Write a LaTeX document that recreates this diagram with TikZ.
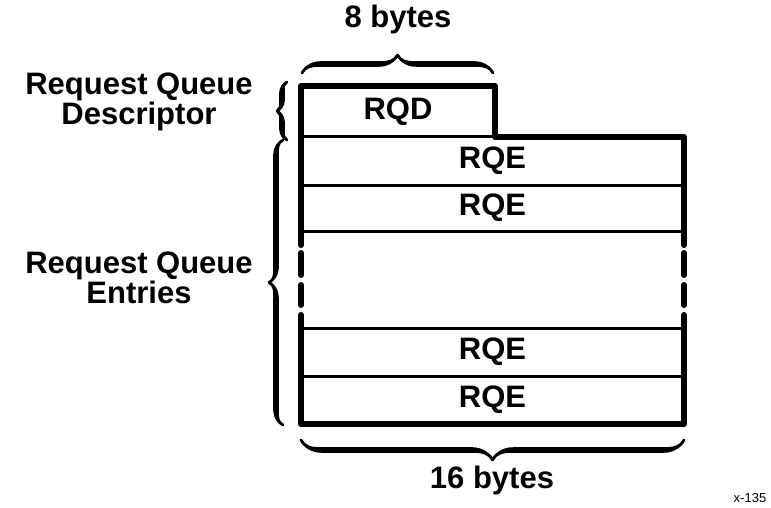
\documentclass[tikz,border=0pt]{standalone}
\usepackage{fontspec}
\setmainfont{Liberation Sans}
\usetikzlibrary{decorations.pathreplacing,calligraphy}
\begin{document}
\begin{tikzpicture}[x=1pt,y=-1pt,
    lbl/.style={font=\fontsize{31}{28}\selectfont\bfseries, inner sep=0pt},
    cell/.style={draw, line width=3pt, outer sep=0pt, minimum width=383pt, lbl},
    edge/.style={line width=6pt, line cap=round, line join=round},
    curly/.style={decorate, decoration={calligraphic brace, amplitude=#1},
        line width=5.5pt, pen colour={black}}]
    \useasboundingbox (0,0) rectangle (771,508);
    \node[cell, minimum width=194pt, minimum height=51pt] (rqd) at (398,111.5) {RQD};
    \node[cell, minimum height=48pt] (rqeA) at (492.5,161) {RQE};
    \node[cell, minimum height=46pt] (rqeB) at (492.5,208) {RQE};
    \node[cell, minimum height=48pt] (rqeC) at (492.5,352) {RQE};
    \node[cell, minimum height=48pt] (rqeD) at (492.5,400) {RQE};
    \draw[edge] (rqeB.south west) ++(0,14) -- (rqd.north west) -- (rqd.north east)
        -- (rqd.south east) -- (rqeA.north east) -- ++(0,108);
    \draw[edge] (rqeC.north west) ++(0,-13) -- (rqeD.south west) -- (rqeD.south east)
        -- ++(0,-109);
    \foreach \x in {301,684}
        \foreach \a/\b in {253/275,285/305}
            \draw[edge] (\x,\a) -- (\x,\b);
    \coordinate (topL) at (302,73);
    \coordinate (topR) at (493,73);
    \coordinate (botL) at (301,440);
    \coordinate (botR) at (684,440);
    \coordinate (rqdB) at (287,140);
    \coordinate (rqdT) at (287,82);
    \coordinate (rqeBot) at (283,425);
    \coordinate (rqeTop) at (283,140);
    \draw[curly=18pt] (topL) -- (topR);
    \draw[curly=20pt] (botR) -- (botL);
    \draw[curly=10pt] (rqdB) -- (rqdT);
    \draw[curly=14pt] (rqeBot) -- (rqeTop);
    \node[lbl, anchor=base] (eight) at (398,28) {8 bytes};
    \node[lbl, anchor=base] (sixteen) at (492,488) {16 bytes};
    \node[lbl, align=center] (descr) at (139,101.5) {Request Queue\\Descriptor};
    \node[lbl, align=center] (entries) at (139,278) {Request Queue\\Entries};
    \node[font=\fontsize{13}{13}\selectfont, inner sep=0pt, anchor=base] (fig) at (750,502) {x-135};
\end{tikzpicture}
\end{document}
